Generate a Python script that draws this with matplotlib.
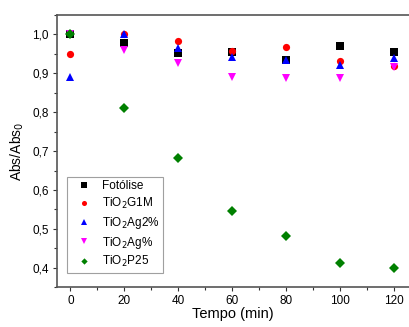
import matplotlib
matplotlib.use("Agg")
import matplotlib.pyplot as plt
from matplotlib.ticker import MultipleLocator, FuncFormatter

plt.rcParams['font.family'] = ['Liberation Sans', 'DejaVu Sans']

tempo = [0, 20, 40, 60, 80, 100, 120]
fotolise = [1.0, 0.978, 0.953, 0.955, 0.935, 0.971, 0.954]
g1m = [0.950, 1.0, 0.982, 0.958, 0.967, 0.933, 0.918]
ag2 = [0.891, 1.0, 0.966, 0.941, 0.935, 0.922, 0.940]
ag = [1.0, 0.959, 0.926, 0.891, 0.888, 0.889, 0.916]
p25 = [1.0, 0.812, 0.682, 0.545, 0.481, 0.413, 0.400]

series = [
    (fotolise, 's', 'black', 'Fotólise'),
    (g1m, 'o', 'red', 'TiO$_2$G1M'),
    (ag2, '^', 'blue', 'TiO$_2$Ag2%'),
    (ag, 'v', 'magenta', 'TiO$_2$Ag%'),
    (p25, 'D', 'green', 'TiO$_2$P25'),
]

fig = plt.figure(figsize=(4.09, 3.27), dpi=100)
ax = fig.add_axes([0.139, 0.122, 0.861, 0.832])
for vals, m, c, lab in series:
    ms = 4.6 if m == 'D' else 5.2
    ax.plot(tempo, vals, linestyle='none', marker=m, color=c, markersize=ms,
            markeredgewidth=0, label=lab)

ax.set_xlim(-5, 125.5)
ax.set_ylim(0.35, 1.05)
ax.xaxis.set_major_locator(MultipleLocator(20))
ax.xaxis.set_minor_locator(MultipleLocator(10))
ax.yaxis.set_major_locator(MultipleLocator(0.1))
ax.yaxis.set_minor_locator(MultipleLocator(0.05))
ax.yaxis.set_major_formatter(FuncFormatter(lambda v, p: f"{v:.1f}".replace('.', ',')))
ax.tick_params(axis='both', which='major', direction='out', length=3, width=0.8,
               labelsize=8.5, colors='#333333', labelcolor='black', pad=3)
ax.tick_params(axis='both', which='minor', direction='out', length=2, width=0.8, colors='#333333')
ax.tick_params(top=False, right=False, which='both')
for s in ['left', 'bottom', 'top']:
    ax.spines[s].set_color('#555555')
    ax.spines[s].set_linewidth(1.2)
ax.spines['right'].set_visible(False)

ax.set_xlabel('Tempo (min)', fontsize=10.5, labelpad=0)
ax.set_ylabel('Abs/Abs$_0$', fontsize=10, labelpad=4)

leg = ax.legend(loc='lower left', fontsize=8.5, frameon=True, fancybox=False,
                edgecolor='#888888', borderpad=0.3, labelspacing=0.32,
                handletextpad=0.5, handlelength=2.2, markerscale=0.7,
                bbox_to_anchor=(0.012, 0.03))
leg.get_frame().set_linewidth(0.8)

fig.savefig('out.png', dpi=100)
